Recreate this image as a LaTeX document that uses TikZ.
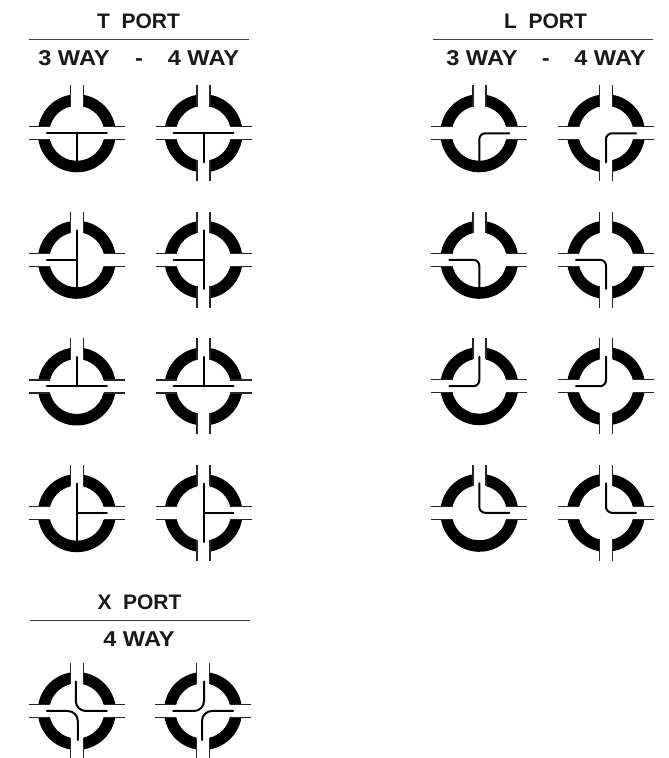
\documentclass[tikz,border=0pt]{standalone}
\usepackage{fontspec}
\setmainfont{Liberation Sans}[FakeStretch=1.1]
\newfontfamily\porthead{Liberation Sans}
\tikzset{
  portline/.style={line width=1.4pt,draw=black!85,line cap=butt},
  flowbar/.style={line width=2pt,draw=black,line cap=round},
  ringpart/.style={fill=black,draw=none},
  headrule/.style={line width=1pt,draw=black!75},
  headtext/.style={font=\fontsize{21.5}{21.5}\selectfont\bfseries,text=black!90,anchor=base,inner sep=0pt},
  titletext/.style={font=\porthead\fontsize{21}{21}\selectfont\bfseries,text=black!90,anchor=base,inner sep=0pt}
}
\newcommand{\ringseg}[2]{%
  \fill[ringpart] ({#1+9.59}:39) arc[start angle={#1+9.59},end angle={#2-9.59},radius=39]
    -- ({#2-13.67}:27.5) arc[start angle={#2-13.67},end angle={#1+13.67},radius=27.5] -- cycle;}
\newcommand{\portpair}[1]{%
  \begin{scope}[rotate=#1]
    \draw[portline] (26.7,6.5) -- (48,6.5);
    \draw[portline] (26.7,-6.5) -- (48,-6.5);
  \end{scope}}
% four open ports
\newcommand{\fourport}[3]{%
  \begin{scope}[shift={(#1,758-#2)}]
    \ringseg{0}{90}\ringseg{90}{180}\ringseg{180}{270}\ringseg{270}{360}
    \portpair{0}\portpair{90}\portpair{180}\portpair{270}
    #3
  \end{scope}}
% three open ports, bottom closed
\newcommand{\threeport}[3]{%
  \begin{scope}[shift={(#1,758-#2)}]
    \ringseg{0}{90}\ringseg{90}{180}\ringseg{180}{360}
    \portpair{0}\portpair{90}\portpair{180}
    #3
  \end{scope}}
\begin{document}
\begin{tikzpicture}[x=1pt,y=1pt]
\useasboundingbox (0,0) rectangle (669,758);
% headings
\node[titletext] (tp) at (138.5,758-29) {T\hspace{0.55em}PORT};
\draw[headrule] (29,758-39.7) -- (249,758-39.7);
\node[headtext] (t3) at (74,758-66) {3 WAY};
\node[headtext] (td) at (139,758-66) {-};
\node[headtext] (t4) at (203.5,758-66) {4 WAY};
\node[titletext] (lp) at (545.5,758-29) {L\hspace{0.55em}PORT};
\draw[headrule] (433,758-39.7) -- (653,758-39.7);
\node[headtext] (l3) at (482,758-66) {3 WAY};
\node[headtext] (ld) at (545.7,758-66) {-};
\node[headtext] (l4) at (610,758-66) {4 WAY};
\node[titletext] (xp) at (139.5,758-610) {X\hspace{0.55em}PORT};
\draw[headrule] (29.5,758-621) -- (250,758-621);
\node[headtext] (x4) at (139,758-647) {4 WAY};
% T port
\threeport{76.8}{133.3}{\draw[flowbar] (-30,0) -- (30,0); \draw[flowbar,line cap=butt] (0,0) -- (0,-28);}
\fourport{203.5}{133.3}{\draw[flowbar] (-30,0) -- (30,0); \draw[flowbar] (0,0) -- (0,-29);}
\threeport{76.8}{259.8}{\draw[flowbar] (-30,0) -- (0,0); \draw[flowbar] (0,29.5) -- (0,-28);}
\fourport{203.5}{259.8}{\draw[flowbar] (-30,0) -- (0,0); \draw[flowbar] (0,29.5) -- (0,-29);}
\threeport{76.8}{386.5}{\draw[flowbar] (-30,0) -- (30,0); \draw[flowbar] (0,0) -- (0,29.5);}
\fourport{203.5}{386.5}{\draw[flowbar] (-30,0) -- (30,0); \draw[flowbar] (0,0) -- (0,29.5);}
\threeport{76.8}{513.2}{\draw[flowbar] (30,0) -- (0,0); \draw[flowbar] (0,29.5) -- (0,-28);}
\fourport{203.5}{513.2}{\draw[flowbar] (30,0) -- (0,0); \draw[flowbar] (0,29.5) -- (0,-29);}
% L port
\threeport{479.3}{133.3}{\draw[flowbar,rounded corners=6pt] (30,0) -- (0,0) -- (0,-28);}
\fourport{606}{133.3}{\draw[flowbar,rounded corners=6pt] (30,0) -- (0,0) -- (0,-29);}
\threeport{479.3}{259.8}{\draw[flowbar,rounded corners=6pt] (-30,0) -- (0,0) -- (0,-28);}
\fourport{606}{259.8}{\draw[flowbar,rounded corners=6pt] (-30,0) -- (0,0) -- (0,-29);}
\threeport{479.3}{386.2}{\draw[flowbar,rounded corners=6pt] (-30,0) -- (0,0) -- (0,29.5);}
\fourport{606}{386.2}{\draw[flowbar,rounded corners=6pt] (-30,0) -- (0,0) -- (0,29.5);}
\threeport{479.3}{512.8}{\draw[flowbar,rounded corners=6pt] (30,0) -- (0,0) -- (0,29.5);}
\fourport{606}{512.8}{\draw[flowbar,rounded corners=6pt] (30,0) -- (0,0) -- (0,29.5);}
% X port
\fourport{76.8}{711}{\draw[flowbar,rounded corners=10pt] (30,0) -- (-1,0) -- (-1,29.5); \draw[flowbar,rounded corners=10pt] (-30,0) -- (1,0) -- (1,-29);}
\fourport{203}{711}{\draw[flowbar,rounded corners=10pt] (-30,0) -- (1,0) -- (1,29.5); \draw[flowbar,rounded corners=10pt] (30,0) -- (-1,0) -- (-1,-29);}
\end{tikzpicture}
\end{document}
